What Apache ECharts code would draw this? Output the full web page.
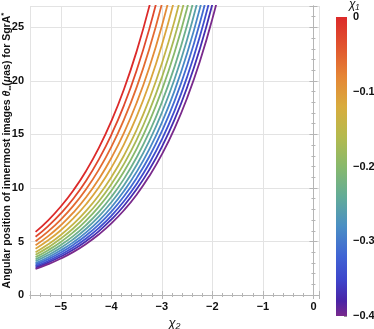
<!DOCTYPE html>
<html>
<head>
<meta charset="utf-8">
<script src="https://cdn.jsdelivr.net/npm/echarts@6/dist/echarts.min.js"></script>
<style>
  html, body { margin: 0; padding: 0; background: #fff; }
  #chart { width: 374px; height: 329px; }
</style>
</head>
<body>
<div id="chart"></div>
<script>
// chi2 sample points (x axis)
var chi2 = [-5.5, -5.25, -5.0, -4.75, -4.5, -4.25, -4.0, -3.75, -3.5, -3.25, -3.0, -2.75, -2.5, -2.25, -2.0, -1.75];

// chi1 value of each curve (colour legend)
var chi1 = [0, -0.029, -0.057, -0.086, -0.114, -0.143, -0.171, -0.2, -0.229, -0.257, -0.286, -0.314, -0.343, -0.371, -0.4];

// theta_inf (muas), one array per chi1
var theta_000 = [5.90, 6.98, 8.27, 9.79, 11.59, 13.72, 16.24, 19.22, 22.76, 26.94, 31.89];
var theta_029 = [5.44, 6.44, 7.62, 9.02, 10.68, 12.65, 14.97, 17.72, 20.98, 24.84, 29.41];
var theta_057 = [5.03, 5.95, 7.05, 8.35, 9.88, 11.69, 13.84, 16.39, 19.40, 22.97, 27.19, 32.19];
var theta_086 = [4.65, 5.50, 6.52, 7.71, 9.13, 10.81, 12.80, 15.15, 17.94, 21.23, 25.14, 29.76];
var theta_114 = [4.32, 5.11, 6.05, 7.17, 8.48, 10.04, 11.89, 14.08, 16.66, 19.73, 23.35, 27.65, 32.73];
var theta_143 = [4.00, 4.74, 5.61, 6.64, 7.86, 9.30, 11.01, 13.03, 15.43, 18.27, 21.62, 25.60, 30.30];
var theta_171 = [3.76, 4.45, 5.27, 6.24, 7.39, 8.74, 10.35, 12.25, 14.50, 17.17, 20.33, 24.06, 28.49];
var theta_200 = [3.54, 4.19, 4.96, 5.87, 6.95, 8.23, 9.74, 11.53, 13.66, 16.17, 19.14, 22.65, 26.82, 31.75];
var theta_229 = [3.33, 3.94, 4.67, 5.52, 6.54, 7.74, 9.17, 10.85, 12.85, 15.21, 18.00, 21.31, 25.23, 29.87];
var theta_257 = [3.15, 3.73, 4.41, 5.23, 6.19, 7.32, 8.67, 10.26, 12.15, 14.38, 17.03, 20.16, 23.87, 28.25];
var theta_286 = [2.98, 3.53, 4.18, 4.94, 5.85, 6.93, 8.20, 9.71, 11.50, 13.61, 16.11, 19.07, 22.58, 26.73, 31.64];
var theta_314 = [2.83, 3.35, 3.97, 4.70, 5.56, 6.58, 7.79, 9.22, 10.92, 12.92, 15.30, 18.11, 21.44, 25.38, 30.05];
var theta_343 = [2.69, 3.18, 3.77, 4.46, 5.28, 6.25, 7.40, 8.77, 10.38, 12.28, 14.54, 17.21, 20.38, 24.13, 28.56];
var theta_371 = [2.56, 3.03, 3.59, 4.25, 5.03, 5.95, 7.05, 8.34, 9.88, 11.69, 13.84, 16.38, 19.40, 22.96, 27.18, 32.18];
var theta_400 = [2.43, 2.88, 3.41, 4.03, 4.77, 5.65, 6.69, 7.92, 9.37, 11.10, 13.14, 15.55, 18.41, 21.79, 25.80, 30.54];

var curves = [theta_000, theta_029, theta_057, theta_086, theta_114, theta_143, theta_171, theta_200,
              theta_229, theta_257, theta_286, theta_314, theta_343, theta_371, theta_400];

// rainbow legend, top (chi1 = 0) to bottom (chi1 = -0.4)
var stops = [
  [0.00, '#DC2A2A'],
  [0.10, '#E1552E'],
  [0.20, '#E58636'],
  [0.30, '#D8AC3E'],
  [0.40, '#B4BA4E'],
  [0.50, '#88B96C'],
  [0.60, '#63AC97'],
  [0.70, '#4B8FC4'],
  [0.80, '#4064D4'],
  [0.88, '#3E45CB'],
  [0.95, '#4A24A6'],
  [1.00, '#792A8C']
];

function hexRgb(h) {
  return [parseInt(h.substr(1, 2), 16), parseInt(h.substr(3, 2), 16), parseInt(h.substr(5, 2), 16)];
}
function colorAt(t) {
  for (var i = 1; i < stops.length; i++) {
    if (t <= stops[i][0]) {
      var a = stops[i - 1], b = stops[i];
      var f = (t - a[0]) / (b[0] - a[0]);
      var ca = hexRgb(a[1]), cb = hexRgb(b[1]);
      return 'rgb(' + [0, 1, 2].map(function (k) { return Math.round(ca[k] + (cb[k] - ca[k]) * f); }).join(',') + ')';
    }
  }
  return stops[stops.length - 1][1];
}

function minus(v) { return String(v).replace('-', '\u2212'); }

var frameColor = '#b5b5b5';
var labelStyle = { color: '#111', fontSize: 11, fontWeight: 'bold', fontFamily: 'Liberation Sans' };

var series = curves.map(function (arr, k) {
  return {
    type: 'line',
    xAxisIndex: 0,
    yAxisIndex: 0,
    data: arr.map(function (v, i) { return [chi2[i], v]; }),
    smooth: true,
    showSymbol: false,
    symbol: 'none',
    lineStyle: { width: 1.8, color: colorAt(-chi1[k] / 0.4) },
    silent: true
  };
});

// colour bar
series.push({
  type: 'bar',
  xAxisIndex: 2,
  yAxisIndex: 2,
  data: [-0.4],
  barWidth: '100%',
  silent: true,
  itemStyle: {
    color: new echarts.graphic.LinearGradient(0, 0, 0, 1, stops.map(function (s) {
      return { offset: s[0], color: s[1] };
    }))
  }
});

var chart = echarts.init(document.getElementById('chart'));
chart.setOption({
  animation: false,
  backgroundColor: '#fff',
  grid: [
    { left: 30, top: 6, width: 289, height: 289, outerBoundsMode: 'none' },
    { left: 336, top: 17, width: 11, height: 299, outerBoundsMode: 'none' }
  ],
  xAxis: [
    {
      type: 'value', gridIndex: 0, min: -5.61, max: 0.11,
      name: 'χ\u2082', nameLocation: 'middle', nameGap: 22, nameMoveOverlap: false,
      nameTextStyle: { color: '#111', fontSize: 13, fontStyle: 'italic', fontFamily: 'Liberation Sans' },
      axisLine: { show: true, lineStyle: { color: frameColor } },
      axisTick: { show: true, inside: true, length: 4, lineStyle: { color: frameColor } },
      minorTick: { show: true, splitNumber: 5, length: 2, lineStyle: { color: frameColor } },
      axisLabel: Object.assign({ margin: 6, showMinLabel: false, showMaxLabel: false, formatter: minus }, labelStyle),
      splitLine: { show: true, lineStyle: { color: '#e3e3e3', width: 1 } }
    },
    {
      type: 'value', gridIndex: 0, min: -5.61, max: 0.11, position: 'top',
      axisLine: { show: true, lineStyle: { color: frameColor } },
      axisTick: { show: true, inside: true, length: 4, lineStyle: { color: frameColor } },
      minorTick: { show: true, splitNumber: 5, length: 2, lineStyle: { color: frameColor } },
      axisLabel: { show: false },
      splitLine: { show: false }
    },
    {
      type: 'category', gridIndex: 1, data: ['c'],
      axisLine: { show: false }, axisTick: { show: false }, axisLabel: { show: false }
    }
  ],
  yAxis: [
    {
      type: 'value', gridIndex: 0, min: 0, max: 27, interval: 5,
      name: '{t|Angular position of innermost images }{i|θ}{s|∞}{t|(}{i|μ}{t|as) for SgrA}{p|*}',
      nameLocation: 'middle', nameGap: 16, nameMoveOverlap: false,
      nameTextStyle: {
        rich: {
          t: { color: '#111', fontSize: 10.5, fontWeight: 'bold', fontFamily: 'Liberation Sans', lineHeight: 14 },
          i: { color: '#111', fontSize: 10.5, fontWeight: 'bold', fontStyle: 'italic', fontFamily: 'Liberation Sans', lineHeight: 14 },
          s: { color: '#111', fontSize: 7, fontWeight: 'bold', fontFamily: 'Liberation Sans', lineHeight: 8, verticalAlign: 'bottom' },
          p: { color: '#111', fontSize: 8, fontWeight: 'bold', fontFamily: 'Liberation Sans', lineHeight: 8, verticalAlign: 'top' }
        }
      },
      axisLine: { show: true, lineStyle: { color: frameColor } },
      axisTick: { show: true, inside: true, length: 4, lineStyle: { color: frameColor } },
      minorTick: { show: true, splitNumber: 5, length: 2, lineStyle: { color: frameColor } },
      axisLabel: Object.assign({ margin: 6, showMaxLabel: false, formatter: minus }, labelStyle),
      splitLine: { show: true, lineStyle: { color: '#e3e3e3', width: 1 } }
    },
    {
      type: 'value', gridIndex: 0, min: 0, max: 27, interval: 5, position: 'right',
      axisLine: { show: true, lineStyle: { color: frameColor } },
      axisTick: { show: true, inside: true, length: 4, lineStyle: { color: frameColor } },
      minorTick: { show: true, splitNumber: 5, length: 2, lineStyle: { color: frameColor } },
      axisLabel: { show: false },
      splitLine: { show: false }
    },
    {
      type: 'value', gridIndex: 1, min: -0.4, max: 0, interval: 0.1, position: 'right',
      name: 'χ\u2081', nameLocation: 'end', nameGap: 6,
      nameTextStyle: { color: '#111', fontSize: 12, fontStyle: 'italic', fontFamily: 'Liberation Sans', align: 'left', padding: [0, 0, 0, 2] },
      axisLine: { show: false },
      axisTick: { show: true, inside: true, length: 3, lineStyle: { color: '#999' } },
      minorTick: { show: true, splitNumber: 5, length: 2, lineStyle: { color: '#999' } },
      axisLabel: Object.assign({ margin: 6, formatter: minus }, labelStyle),
      splitLine: { show: false }
    }
  ],
  series: series
});
</script>
</body>
</html>
